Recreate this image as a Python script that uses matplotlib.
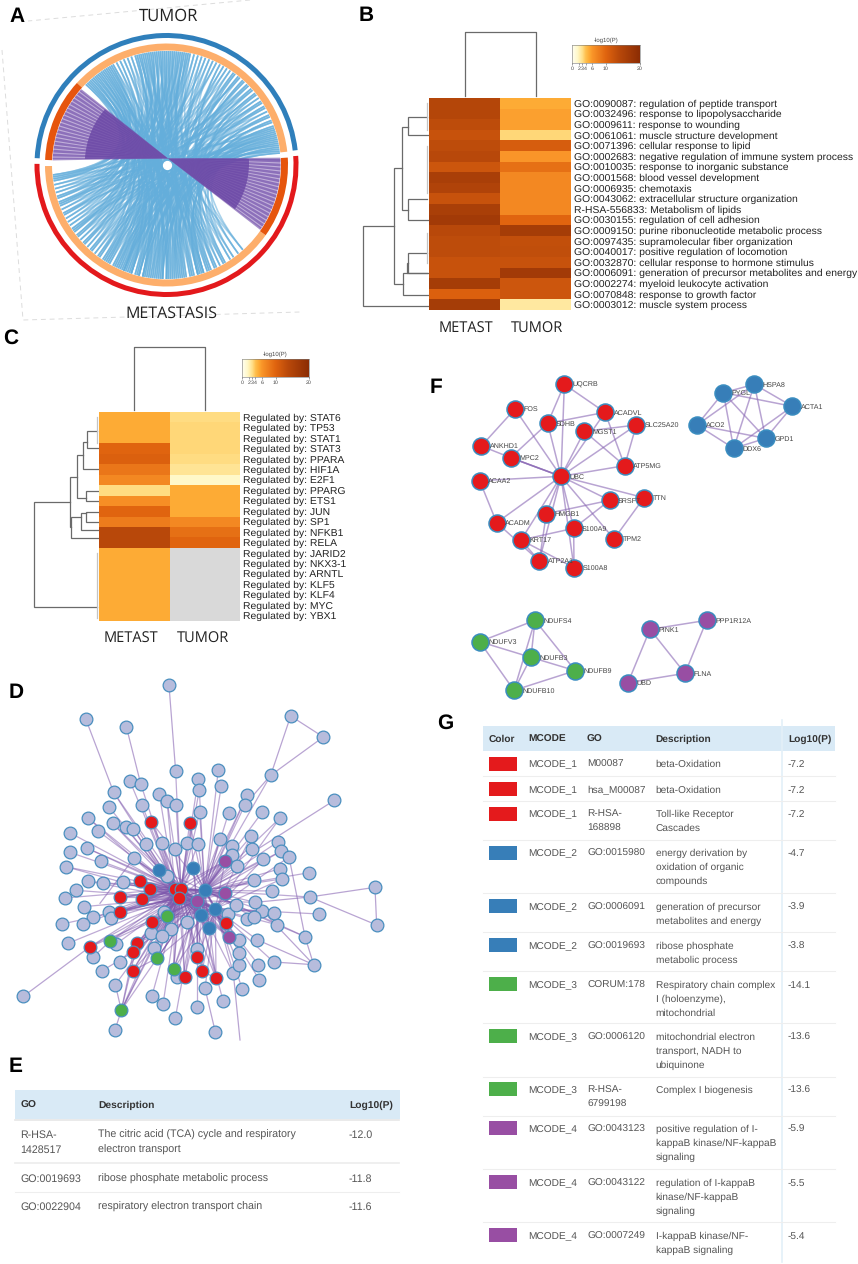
import numpy as np
import matplotlib
matplotlib.use("Agg")
import matplotlib.pyplot as plt
from matplotlib.colors import LinearSegmentedColormap
from matplotlib.patches import Wedge, Rectangle, PathPatch
from matplotlib.path import Path

plt.rcParams['font.family'] = ['Liberation Sans', 'DejaVu Sans']
plt.rcParams['text.hinting'] = 'no_hinting'

W, H = 858, 1264

# ---------- panel A
link_top = [6,7,8,9,10,11,12,13,14,15,16,17,18,19,20,22,23,25,26,28,30,31,33,34,36,38,39,41,42,44,45,47,48,50,51,53,54,56,58,60,
            62,64,66,68,70,72,74,76,78,79,80,81,82,83,84,85,86,87,88,89,90,91,92,93,94,95,96,97,98,99,100,101,102,103,104,105,106,
            108,110,112,114,116,118,119,120,121,122,123,124,125,126,127,128,129,130,131,132,133,134,135]
link_bot = [262,205,231,274,190,248,215,286,199,256,223,301,187,240,268,210,295,252,228,306,194,277,236,260,203,289,245,218,312,197,
            270,234,283,208,255,298,226,264,192,242,275,214,309,250,201,286,238,267,221,293,258,246,272,280,263,288,254,276,243,291,
            266,249,284,259,296,252,271,239,282,261,300,247,278,256,289,244,268,304,233,273,212,287,229,251,196,265,219,292,206,279,
            188,237,258,185,224,270,200,248,216,186]
purple_top = [139,141,143,145,147,149,151,153,155,157,159,161,163,165,167,169,171,173,175,177]
purple_bot = [326,328,330,332,334,336,338,340,342,344,346,348,350,352,354,356,358,360,362,363]

# ---------- panel B
b_terms = ["GO:0090087: regulation of peptide transport", "GO:0032496: response to lipopolysaccharide",
           "GO:0009611: response to wounding", "GO:0061061: muscle structure development",
           "GO:0071396: cellular response to lipid", "GO:0002683: negative regulation of immune system process",
           "GO:0010035: response to inorganic substance", "GO:0001568: blood vessel development",
           "GO:0006935: chemotaxis", "GO:0043062: extracellular structure organization",
           "R-HSA-556833: Metabolism of lipids", "GO:0030155: regulation of cell adhesion",
           "GO:0009150: purine ribonucleotide metabolic process", "GO:0097435: supramolecular fiber organization",
           "GO:0040017: positive regulation of locomotion", "GO:0032870: cellular response to hormone stimulus",
           "GO:0006091: generation of precursor metabolites and energy", "GO:0002274: myeloid leukocyte activation",
           "GO:0070848: response to growth factor", "GO:0003012: muscle system process"]
b_metast = [14.5, 14.5, 13.5, 12.5, 13.5, 14, 12, 16, 15, 12.5, 16, 17, 14, 13.5, 13.5, 12.5, 12.5, 16.5, 10.5, 16.5]
b_tumor = [5, 5.5, 5.5, 3.3, 11, 6, 9, 7, 7, 7, 7, 10, 16.5, 13, 13.2, 12.5, 17, 12, 12, 2.5]

# ---------- panel C
c_terms = ["STAT6", "TP53", "STAT1", "STAT3", "PPARA", "HIF1A", "E2F1", "PPARG", "ETS1", "JUN", "SP1", "NFKB1", "RELA",
           "JARID2", "NKX3-1", "ARNTL", "KLF5", "KLF4", "MYC", "YBX1"]
c_metast = [5, 5, 5, 10, 10.5, 8.5, 7, 3.2, 6.5, 10, 8, 14, 14, 5, 5, 5, 5, 5, 5, 5]
c_tumor = [3.2, 3.3, 3.3, 3.3, 3.2, 2.8, 1.6, 5, 5, 5, 7, 9, 10, np.nan, np.nan, np.nan, np.nan, np.nan, np.nan, np.nan]

bar_ticks = [0, 2, 3, 4, 6, 10, 20]

# dendrogram brackets, as (x_join, y_a, x_a, y_b, x_b)
b_dendro = [(40, 618, 133, 857, 238), (133, 445, 157, 793, 160), (157, 320, 175, 570, 175), (175, 290, 232, 345, 238),
            (175, 537, 232, 600, 238), (160, 760, 170, 825, 238), (170, 730, 175, 760, 238), (175, 700, 232, 760, 232)]
b_leaf_bars = [(232, 250, 330), (232, 378, 520), (232, 640, 728)]
c_dendro = [(42, 517, 150, 830, 232), (150, 440, 172, 590, 152), (172, 375, 188, 505, 198), (188, 335, 200, 417, 238),
            (200, 303, 232, 355, 238), (198, 483, 238, 513, 238), (152, 560, 183, 625, 238), (183, 548, 197, 600, 238),
            (197, 545, 238, 575, 238)]
c_leaf_bars = [(232, 262, 340), (232, 670, 865)]

# ---------- panel D, nodes with the hubs they link to
hubs = {'a': (525, 656), 'b': (614, 661), 'c': (537, 684), 'd': (646, 716), 'e': (590, 692), 'f': (543, 658)}
grey_nodes = [(507,46,''),(257,146,''),(379,170,''),(872,138,''),(970,201,''),(812,316,'b'),(527,304,'f'),(655,299,'b'),
              (595,328,'f'),(598,360,'fb'),(664,347,'b'),(390,334,'a'),(422,341,'a'),(341,367,'af'),(327,411,'a'),(426,405,'a'),
              (478,373,'a'),(501,392,'af'),(528,404,'f'),(599,427,'fb'),(686,428,'b'),(741,376,'be'),(735,404,'b'),(787,426,'b'),
              (839,445,'bd'),(1003,391,''),(263,443,'ac'),(293,482,'a'),(338,460,'af'),(378,472,'a'),(399,476,'ac'),(209,488,'a'),
              (260,534,'af'),(210,547,'a'),(197,590,'ac'),(304,574,'a'),(401,565,'af'),(438,521,'a'),(486,520,'fa'),(526,536,'f'),
              (562,518,'f'),(594,521,'fb'),(660,507,'be'),(697,527,'b'),(753,499,'bd'),(757,537,'b'),(695,555,'be'),(712,587,'b'),
              (790,567,'bd'),(835,515,'b'),(842,544,'be'),(867,561,'d'),(841,596,'b'),(846,627,'bd'),(928,608,'b'),(761,630,'be'),
              (817,663,'b'),(929,681,'b'),(1125,652,''),(1130,765,''),(958,732,'d'),(264,634,'ac'),(309,640,'a'),(370,637,'af'),
              (228,661,'c'),(195,684,'a'),(251,710,'c'),(326,725,'ca'),(333,745,'c'),(279,740,'c'),(187,762,'c'),(250,763,'a'),
              (204,820,'c'),(278,862,''),(347,823,'c'),(360,875,'c'),(305,903,''),(346,944,'c'),(70,979,''),(345,1080,''),
              (456,977,'c'),(489,1003,'c'),(526,1044,'e'),(590,1012,'e'),(646,1086,''),(669,992,'e'),(615,955,'d'),(727,958,'d'),
              (778,929,'d'),(700,910,'de'),(716,884,'d'),(775,884,'d'),(821,876,'d'),(941,884,''),(718,849,'d'),(716,811,'de'),
              (771,809,'d'),(915,800,'b'),(830,764,'db'),(787,722,'bd'),(821,729,'d'),(740,746,'d'),(762,742,'b'),(683,733,'e'),
              (707,705,'b'),(766,697,'be'),(514,777,'c'),(452,788,'c'),(486,799,'ce'),(463,834,'c'),(560,756,'e'),(493,726,'c'),
              (592,838,'e'),(500,618,'f'),(530,920,'e')]
red_nodes = [(454,456,'abf'),(569,459,'fbe'),(420,634,'abcdef'),(451,656,'abcdef'),(525,656,'bcdef'),(543,658,'bcde'),(537,684,'abde'),(361,682,'abcf'),
             (425,688,'abcdef'),(360,726,'abcef'),(456,757,'abcdef'),(677,758,'abcef'),(412,819,'bcdef'),(400,846,'bcef'),(269,831,'cef'),(398,902,'cef'),
             (592,862,'bcdef'),(606,903,'bdef'),(554,922,'bcef'),(648,925,'bdef')]
blue_nodes = [(478,599,'abcdef'),(579,593,'abcdef'),(614,661,'acdef'),(646,716,'abcef'),(604,736,'abcdef'),(626,774,'abcdef')]
purple_nodes = [(676,572,'abcdef'),(676,670,'abcdef'),(590,692,'abcdf'),(686,801,'abcdef')]
green_nodes = [(500,738,'abcdef'),(331,813,'cef'),(472,864,'abcdef'),(521,896,'abcdef'),(364,1021,'acfe')]
outer_edges = [((507,46),(527,304)), ((257,146),(341,367)), ((379,170),(422,341)), ((872,138),(970,201)), ((872,138),(812,316)),
               ((970,201),(812,316)), ((812,316),(735,404)), ((1003,391),(753,550)), ((1125,652),(1130,765)), ((1125,652),(929,681)),
               ((1130,765),(929,681)), ((929,681),(766,697)), ((915,800),(830,764)), ((941,884),(915,800)), ((941,884),(821,876)),
               ((941,884),(787,722)), ((915,800),(867,561)), ((70,979),(269,831)), ((345,1080),(364,1021)), ((646,1086),(615,955)),
               ((720,1110),(700,910)), ((278,862),(331,813)), ((305,903),(400,846)), ((364,1021),(346,944)), ((364,1021),(412,819)),
               ((364,1021),(400,846)), ((648,925),(606,903)), ((398,902),(472,864)), ((941,884),(771,809)), ((401,565),(300,700))]

# ---------- panel E
e_rows = [(["R-HSA-", "1428517"], ["The citric acid (TCA) cycle and respiratory", "electron transport"], "-12.0"),
          (["GO:0019693"], ["ribose phosphate metabolic process"], "-11.8"),
          (["GO:0022904"], ["respiratory electron transport chain"], "-11.6")]

# ---------- panel F
f_red = ["UQCRB", "FOS", "ACADVL", "SDHB", "MGST1", "SLC25A20", "ANKHD1", "MPC2", "ATP5MG", "UBC", "ACAA2", "SRSF7", "TTN",
         "HMGB1", "ACADM", "S100A9", "KRT17", "TPM2", "ATP2A1", "S100A8"]
f_red_x = [403, 255, 525, 353, 463, 619, 154, 242, 584, 393, 149, 539, 642, 349, 200, 431, 273, 552, 328, 432]
f_red_y = [73, 147, 157, 190, 214, 195, 258, 293, 317, 349, 362, 421, 413, 461, 488, 505, 540, 537, 603, 623]
f_red_edges = [("UQCRB","SDHB"),("UQCRB","UBC"),("UQCRB","ACADVL"),("FOS","ANKHD1"),("FOS","UBC"),("ACADVL","SDHB"),("ACADVL","UBC"),
               ("ACADVL","ATP5MG"),("SDHB","UBC"),("SDHB","MPC2"),("MGST1","SLC25A20"),("MGST1","UBC"),("MGST1","ATP5MG"),
               ("SLC25A20","UBC"),("SLC25A20","ATP5MG"),("ANKHD1","MPC2"),("MPC2","UBC"),("MPC2","UBC"),("MPC2","UBC"),("ATP5MG","UBC"),
               ("UBC","ACAA2"),("UBC","SRSF7"),("UBC","TTN"),("UBC","HMGB1"),("UBC","ACADM"),("UBC","S100A9"),("UBC","KRT17"),
               ("UBC","TPM2"),("UBC","ATP2A1"),("UBC","S100A8"),("ACAA2","ACADM"),("ACADM","ATP2A1"),("SRSF7","S100A9"),
               ("SRSF7","HMGB1"),("TTN","TPM2"),("HMGB1","ATP2A1"),("KRT17","S100A9"),("KRT17","S100A8"),("S100A9","S100A8"),
               ("KRT17","ATP2A1")]
f_blue = ["PYGL", "HSPA8", "ACTA1", "ACO2", "GPD1", "DDX6"]
f_blue_x = [880, 973, 1087, 801, 1007, 911]
f_blue_y = [98, 73, 139, 195, 235, 265]
f_blue_edges = [("PYGL","HSPA8"),("PYGL","ACTA1"),("PYGL","ACO2"),("PYGL","GPD1"),("PYGL","DDX6"),("HSPA8","ACTA1"),("HSPA8","ACO2"),
                ("HSPA8","GPD1"),("HSPA8","DDX6"),("ACTA1","GPD1"),("ACTA1","DDX6"),("ACO2","GPD1"),("ACO2","DDX6"),("GPD1","DDX6")]
f_green = ["NDUFS4", "NDUFV3", "NDUFB3", "NDUFB9", "NDUFB10"]
f_green_x = [315, 149, 303, 436, 252]
f_green_y = [781, 845, 892, 932, 991]
f_green_edges = [("NDUFS4","NDUFV3"),("NDUFS4","NDUFB3"),("NDUFS4","NDUFB9"),("NDUFS4","NDUFB10"),("NDUFV3","NDUFB3"),
                 ("NDUFV3","NDUFB10"),("NDUFB3","NDUFB9"),("NDUFB3","NDUFB10"),("NDUFB9","NDUFB10")]
f_purple = ["PINK1", "PPP1R12A", "UBD", "FLNA"]
f_purple_x = [660, 830, 594, 765]
f_purple_y = [808, 781, 968, 940]
f_purple_edges = [("PINK1","PPP1R12A"),("PINK1","UBD"),("PINK1","FLNA"),("PPP1R12A","FLNA"),("UBD","FLNA")]

# ---------- panel G
g_colors = ['#e41a1c'] * 3 + ['#377eb8'] * 3 + ['#4daf4a'] * 3 + ['#984ea3'] * 3
g_mcode = ["MCODE_1"] * 3 + ["MCODE_2"] * 3 + ["MCODE_3"] * 3 + ["MCODE_4"] * 3
g_go = [["M00087"], ["hsa_M00087"], ["R-HSA-", "168898"], ["GO:0015980"], ["GO:0006091"], ["GO:0019693"], ["CORUM:178"], ["GO:0006120"],
        ["R-HSA-", "6799198"], ["GO:0043123"], ["GO:0043122"], ["GO:0007249"]]
g_desc = [["beta-Oxidation"], ["beta-Oxidation"], ["Toll-like Receptor", "Cascades"],
          ["energy derivation by", "oxidation of organic", "compounds"], ["generation of precursor", "metabolites and energy"],
          ["ribose phosphate", "metabolic process"], ["Respiratory chain complex", "I (holoenzyme),", "mitochondrial"],
          ["mitochondrial electron", "transport, NADH to", "ubiquinone"], ["Complex I biogenesis"],
          ["positive regulation of I-", "kappaB kinase/NF-kappaB", "signaling"], ["regulation of I-kappaB", "kinase/NF-kappaB", "signaling"],
          ["I-kappaB kinase/NF-", "kappaB signaling"]]
g_logp = ["-7.2", "-7.2", "-7.2", "-4.7", "-3.9", "-3.8", "-14.1", "-13.6", "-13.6", "-5.9", "-5.5", "-5.4"]
g_row_tops = [751, 776.3, 801, 840, 893.3, 932.3, 971.3, 1023.3, 1076.7, 1115.7, 1169.3, 1222.3, 1262]

heat_cmap = LinearSegmentedColormap.from_list(
    "logp", [(0, '#fffff2'), (0.08, '#fff8c8'), (0.15, '#ffe08a'), (0.2, '#ffc04e'), (0.25, '#fdab35'), (0.3, '#f99428'),
             (0.5, '#e0640f'), (0.7, '#b8480a'), (1, '#8c2d04')])
heat_cmap.set_bad('#d9d9d9')

fig = plt.figure(figsize=(W / 100, H / 100), dpi=100, facecolor='white')
ax = fig.add_axes([0, 0, 1, 1])
ax.set_xlim(0, W)
ax.set_ylim(H, 0)
ax.axis('off')


def px_axes(x0, y0, x1, y1):
    return fig.add_axes([x0 / W, 1 - y1 / H, (x1 - x0) / W, (y1 - y0) / H])


for letter, lx, ly in [("A", 17, 17), ("B", 366, 16), ("C", 11, 338), ("D", 16, 693), ("E", 16, 1067), ("F", 436, 388), ("G", 445, 723)]:
    ax.text(lx, ly, letter, fontsize=15, fontweight='bold', color='black', ha='center', va='center')

# A: chord diagram, chords bend round a point just above the ring centre
cx, cy = 166.5, 165
knot = (168, 158.5)


def on_circle(a, r):
    t = np.radians(a)
    return cx + r * np.cos(t), cy - r * np.sin(t)


def ring(a1, a2, r, w, color):
    ax.add_patch(Wedge((cx, cy), r, -a2, -a1, width=w, facecolor=color, edgecolor='none'))


def chord(a, b, color, alpha, lw, r=114):
    verts = [on_circle(a, r), knot, on_circle(b, r)]
    codes = [Path.MOVETO, Path.CURVE3, Path.CURVE3]
    ax.add_patch(PathPatch(Path(verts, codes), facecolor='none', edgecolor=color, alpha=alpha, lw=lw))


def fan(angles, half, color, alpha, r=114):
    for a in angles:
        p1, p2 = on_circle(a - half, r), on_circle(a + half, r)
        ax.fill([knot[0], p1[0], p2[0]], [knot[1], p1[1], p2[1]], facecolor=color, edgecolor='none', alpha=alpha)


def solid_fan(a1, a2, r, color, alpha):
    arc = [on_circle(a, 114) for a in np.linspace(a1, a2, 30)]
    px = [knot[0]] + [knot[0] + (p[0] - knot[0]) * r for p in arc]
    py = [knot[1]] + [knot[1] + (p[1] - knot[1]) * r for p in arc]
    ax.fill(px, py, facecolor=color, edgecolor='none', alpha=alpha)


for shift in [0, 37, 71]:
    for a, b in zip(link_top, link_bot[shift:] + link_bot[:shift]):
        chord(a, b, '#64aedb', 0.55, 1.15)
solid_fan(139, 177, 1.0, '#a78fcb', 0.7)
solid_fan(326, 363, 1.0, '#a78fcb', 0.7)
fan(purple_top, 0.7, '#6a46a5', 0.6)
fan(purple_bot, 0.7, '#6a46a5', 0.6)
solid_fan(139, 177, 0.72, '#6a46a5', 0.8)
solid_fan(326, 363, 0.72, '#6a46a5', 0.8)
ax.scatter([cx], [cy], s=32, c='white', zorder=3)

ring(6.5, 177, 132, 5, '#2f7fbb')
ring(179.5, 364, 132, 5, '#e3191c')
ring(6.3, 137.5, 121.5, 7, '#fdae6b')
ring(137.5, 177.6, 121.5, 7, '#e6550d')
ring(180.5, 324.7, 121.5, 7, '#fdae6b')
ring(324.7, 363.5, 121.5, 7, '#e6550d')

dash_x = [250, 28, None, 2, 23, 300]
dash_y = [0, 21, None, 50, 320, 312]
ax.plot(dash_x, dash_y, color='#dcdcdc', lw=0.7, ls=(0, (5, 4)))
ax.text(169, 16, "TUMOR", fontsize=12, family=['Open Sans', 'DejaVu Sans'], color='#222222', ha='center', va='center')
ax.text(171, 314, "METASTASIS", fontsize=11.5, family=['Open Sans', 'DejaVu Sans'], color='#222222', ha='center', va='center')


# B, C: heatmaps
def heatmap(x0, x1, y0, y1, metast, tumor, labels, ox, oy, dendro, leaf_bars, col_top, col_bot, bar_box, lab_x, lab_size, name_y, name_x):
    hax = px_axes(x0, y0, x1, y1)
    vals = np.ma.masked_invalid(np.column_stack([metast, tumor]))
    hax.pcolormesh(vals, cmap=heat_cmap, vmin=0, vmax=20)
    hax.set_ylim(len(metast), 0)
    hax.axis('off')
    row_h = (y1 - y0) / len(labels)
    for i, lab in enumerate(labels):
        ax.text(lab_x, y0 + (i + 0.5) * row_h + 3.4, lab, fontsize=lab_size, color='#222222', ha='left', va='baseline')
    for xj, ya, xa, yb, xb in dendro:
        ax.plot([ox + xa / 3, ox + xj / 3, ox + xj / 3, ox + xb / 3], [oy + ya / 3, oy + ya / 3, oy + yb / 3, oy + yb / 3],
                color='#6a6a6a', lw=0.9, solid_joinstyle='miter')
    for xb, ya, yb in leaf_bars:
        ax.plot([ox + xb / 3, ox + xb / 3], [oy + ya / 3, oy + yb / 3], color='#c4c4c4', lw=0.9)
    xl, xr = (x0 * 3 + x1) / 4, (x0 + x1 * 3) / 4
    ax.plot([xl, xl, xr, xr], [col_bot, col_top, col_top, col_bot], color='#6a6a6a', lw=0.9)
    for nm, nx in zip(["METAST", "TUMOR"], name_x):
        ax.text(nx, name_y, nm, fontsize=10.5, family=['Open Sans', 'DejaVu Sans'], color='#222222', ha='center', va='center')
    bx0, by0, bx1, by1 = bar_box
    cax = px_axes(bx0, by0, bx1, by1)
    cax.imshow(np.linspace(0, 20, 200)[None, :], aspect='auto', cmap=heat_cmap, vmin=0, vmax=20, extent=[0, 20, 0, 1])
    cax.set_yticks([])
    cax.set_xticks(bar_ticks)
    cax.set_xticklabels([str(t) for t in bar_ticks], fontsize=3.8, color='#444444')
    cax.tick_params(axis='x', length=1.5, width=0.4, pad=1, color='#555555')
    for sp in cax.spines.values():
        sp.set_linewidth(0.4)
        sp.set_color('#777777')
    ax.text((bx0 + bx1) / 2, by0 - 5, "-log10(P)", fontsize=4.3, color='#444444', ha='center', va='center')


heatmap(429, 571, 98, 310, b_metast, b_tumor, b_terms, 350, 20, b_dendro, b_leaf_bars, 32, 96, (572, 45, 640, 63), 574, 7.5, 328.5, (465.5, 537))
heatmap(99, 240, 412, 621, c_metast, c_tumor, ["Regulated by: " + t for t in c_terms], 20, 330, c_dendro, c_leaf_bars, 347, 410,
        (242, 359, 309, 377), 243, 7.5, 638.5, (131, 203))


# D: network
def z(v):
    return np.asarray(v, dtype=float) / 3


all_d = [(grey_nodes, '#b7bcdc'), (red_nodes, '#e41a1c'), (blue_nodes, '#377eb8'), (purple_nodes, '#984ea3'), (green_nodes, '#4daf4a')]
for nodes, _ in all_d:
    for nx, ny, links in nodes:
        for k in links:
            hx, hy = hubs[k]
            ax.plot(z([nx, hx]), 670 + z([ny, hy]), color='#7d57ac', lw=0.9, alpha=0.5, zorder=1)
for p, q in outer_edges:
    ax.plot(z([p[0], q[0]]), 670 + z([p[1], q[1]]), color='#8a68b5', lw=0.9, alpha=0.6, zorder=1)
for nodes, col in all_d:
    ax.scatter(z([n[0] for n in nodes]), 670 + z([n[1] for n in nodes]), s=84, c=col, edgecolors='#4a8fbf', linewidths=0.9, zorder=2)


# F: clusters
def cluster(names, xs, ys, edges, color):
    pos = dict(zip(names, zip(xs, ys)))
    for p, q in edges:
        ax.plot(430 + z([pos[p][0], pos[q][0]]), 360 + z([pos[p][1], pos[q][1]]), color='#8a68b5', lw=1.1, alpha=0.6, zorder=1)
    ax.scatter(430 + z(xs), 360 + z(ys), s=150, c=color, edgecolors='#3a8dc0', linewidths=1.1, zorder=2)
    for n, x, y in zip(names, xs, ys):
        ax.text(430 + x / 3 + 8.5, 360 + y / 3 + 2.3, n, fontsize=5.1, color='#444444', ha='left', va='baseline', zorder=3)


cluster(f_red, f_red_x, f_red_y, f_red_edges, '#e41a1c')
cluster(f_blue, f_blue_x, f_blue_y, f_blue_edges, '#377eb8')
cluster(f_green, f_green_x, f_green_y, f_green_edges, '#4daf4a')
cluster(f_purple, f_purple_x, f_purple_y, f_purple_edges, '#984ea3')

# E: table
head_col = '#d9eaf6'
body_col = '#555555'
ax.add_patch(Rectangle((14.5, 1090), 385, 29, facecolor=head_col, edgecolor='none'))
for t, tx in [("GO", 20.5), ("Description", 98), ("Log10(P)", 349)]:
    ax.text(tx, 1107.5, t, fontsize=7.4, fontweight='bold', color='#333333', va='baseline')
ax.plot([14.5, 399], [1119.5, 1119.5], color='#e6e6e6', lw=1.2)
ax.plot([14.5, 399], [1163, 1163], color='#ececec', lw=1.2)
ax.plot([14.5, 399], [1192, 1192], color='#eeeeee', lw=0.8)
e_y = [1134, 1178, 1206.5]
for (go, desc, lp), y in zip(e_rows, e_y):
    for j, s in enumerate(go):
        ax.text(20.5, y + 3.5 + j * 15.5, s, fontsize=7.7, color=body_col, va='baseline')
    for j, s in enumerate(desc):
        ax.text(98, y + 3.5 + j * 15.5, s, fontsize=7.7, color=body_col, va='baseline')
    ax.text(349, y + 3.5, lp, fontsize=7.7, color=body_col, va='baseline')

# G: table
ax.add_patch(Rectangle((483, 726), 352, 25, facecolor=head_col, edgecolor='none'))
for t, tx in [("Color", 489), ("MCODE", 528.5), ("GO", 587), ("Description", 655.5), ("Log10(P)", 788)]:
    ax.text(tx, 742, t, fontsize=7.3, fontweight='bold', color='#333333', va='baseline')
ax.plot([782, 782], [720, 1262], color='#e3f0f8', lw=1.2)
for i in range(len(g_mcode)):
    top = g_row_tops[i]
    ax.add_patch(Rectangle((489, top + 5.7), 28, 14, facecolor=g_colors[i], edgecolor='none'))
    ax.text(528.5, top + 16.3, g_mcode[i], fontsize=7.3, color=body_col, va='baseline')
    ax.text(788, top + 16.3, g_logp[i], fontsize=7.3, color=body_col, va='baseline')
    for j, s in enumerate(g_go[i]):
        ax.text(587, top + 16.3 + j * 14, s, fontsize=7.3, color=body_col, va='baseline')
    for j, s in enumerate(g_desc[i]):
        ax.text(655.5, top + 16.3 + j * 14, s, fontsize=7.3, color=body_col, va='baseline')
    if i < len(g_mcode) - 1:
        ax.plot([483, 835], [g_row_tops[i + 1]] * 2, color='#eeeeee', lw=0.8)

fig.savefig("out.png", dpi=100)
